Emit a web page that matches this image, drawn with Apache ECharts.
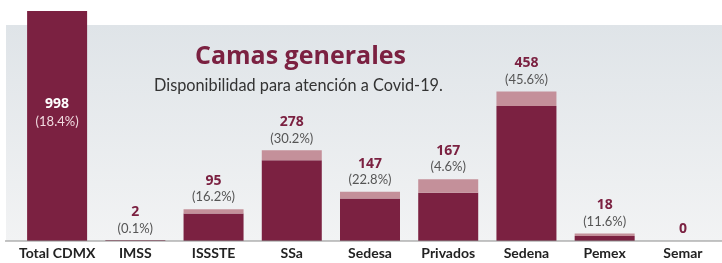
<!DOCTYPE html>
<html>
<head>
<meta charset="utf-8">
<script src="https://cdn.jsdelivr.net/npm/echarts@6/dist/echarts.min.js"></script>
<style>
  html, body { margin: 0; padding: 0; background: #fff; }
  #chart { width: 722px; height: 263px; }
</style>
</head>
<body>
<div id="chart"></div>
<script>
// 数据
const categories = ['Total CDMX', 'IMSS', 'ISSSTE', 'SSa', 'Sedesa', 'Privados', 'Sedena', 'Pemex', 'Semar'];
// 深色部分（柱体下段）
const darkValues = [998, 2, 84, 246, 129, 147, 411, 15, 0];
// 浅色部分（柱体上段）
const lightValues = [0, 0, 13, 30, 21, 41, 44, 8, 0];
// 标签文字
const valueLabels = ['998', '2', '95', '278', '147', '167', '458', '18', '0'];
const pctLabels = ['(18.4%)', '(0.1%)', '(16.2%)', '(30.2%)', '(22.8%)', '(4.6%)', '(45.6%)', '(11.6%)', ''];

const DARK = '#7b2141';
const LIGHT = '#c4909a';
const FONT = '"Open Sans", "Noto Sans", sans-serif';
const FONT_N = 'Lato, "Open Sans", sans-serif';

const chart = echarts.init(document.getElementById('chart'));

const darkData = darkValues.map((v, i) => {
  if (i !== 0) return v;
  // Total CDMX 的标签放在柱内
  return {
    value: v,
    label: {
      show: true,
      position: 'insideBottom',
      distance: 111,
      formatter: () => `{v|${valueLabels[0]}}\n{p|${pctLabels[0]}}`,
      rich: {
        v: { fontFamily: FONT, fontWeight: 'bold', fontSize: 14, color: '#fff', lineHeight: 17 },
        p: { fontFamily: FONT_N, fontSize: 13, color: '#f1dbe0', lineHeight: 17 }
      }
    }
  };
});

const option = {
  backgroundColor: '#fff',
  animation: false,
  title: [
    {
      text: 'Camas generales',
      left: 190,
      top: 39,
      textStyle: { fontFamily: FONT, fontWeight: 'bold', fontSize: 25, color: DARK }
    },
    {
      text: 'Disponibilidad para atención a Covid-19.',
      left: 149,
      top: 73,
      textStyle: { fontFamily: FONT_N, fontWeight: 'normal', fontSize: 16.3, color: '#333' }
    }
  ],
  graphic: [
    {
      type: 'rect',
      z: -10,
      shape: { x: 6, y: 25, width: 716, height: 216 },
      style: {
        fill: new echarts.graphic.LinearGradient(0, 0, 0, 1, [
          { offset: 0, color: '#dfe4e8' },
          { offset: 1, color: '#f2f3f4' }
        ])
      }
    },
    {
      type: 'line',
      z: 100,
      shape: { x1: 5, y1: 241, x2: 722, y2: 241 },
      style: { stroke: '#8c8c8c', lineWidth: 1 }
    }
  ],
  grid: { left: 18, right: 0, top: 11, bottom: 22 },
  xAxis: {
    type: 'category',
    data: categories,
    axisLine: { show: false },
    axisTick: { show: false },
    axisLabel: {
      margin: 5,
      interval: 0,
      fontFamily: FONT_N,
      fontWeight: 'bold',
      fontSize: 14,
      color: '#222'
    }
  },
  yAxis: {
    type: 'value',
    min: 0,
    max: 700,
    show: false,
    splitLine: { show: false }
  },
  series: [
    {
      type: 'bar',
      stack: 'camas',
      barWidth: 60,
      data: darkData,
      itemStyle: { color: DARK },
      label: { show: false }
    },
    {
      type: 'bar',
      stack: 'camas',
      barWidth: 60,
      data: lightValues,
      itemStyle: { color: LIGHT },
      label: {
        show: true,
        position: 'top',
        distance: 4,
        formatter: (p) => {
          const i = p.dataIndex;
          if (i === 0) return '';
          return pctLabels[i]
            ? `{v|${valueLabels[i]}}\n{p|${pctLabels[i]}}`
            : `{v|${valueLabels[i]}}`;
        },
        rich: {
          v: { fontFamily: FONT, fontWeight: 'bold', fontSize: 14, color: DARK, lineHeight: 16 },
          p: { fontFamily: FONT_N, fontSize: 13, color: '#555', lineHeight: 16 }
        }
      }
    }
  ]
};

chart.setOption(option);
</script>
</body>
</html>
